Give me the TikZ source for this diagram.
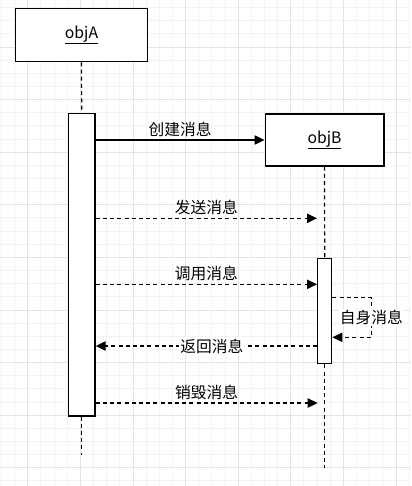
\documentclass[tikz,border=0pt]{standalone}
\usepackage{fontspec}
\setmainfont{Noto Sans CJK SC}
\usetikzlibrary{arrows.meta,positioning}

\definecolor{gridminor}{HTML}{F3F3F3}
\definecolor{gridmajor}{HTML}{E3E3E3}

\begin{document}
\begin{tikzpicture}[x=0.75pt, y=-0.75pt, font=\fontsize{11.8pt}{14pt}\selectfont,
    objbox/.style={draw, line width=1pt, fill=white, inner sep=0pt},
    actbox/.style={draw, line width=1pt, fill=white, inner sep=0pt},
    lifeline/.style={line width=0.9pt, dash pattern=on 3pt off 2.4pt},
    call/.style={line width=0.9pt, -{Triangle[length=7.5pt, width=7pt]}},
    msg/.style={call, dash pattern=on 3pt off 2.4pt},
    lbl/.style={above, inner sep=2pt},
    midlbl/.style={fill=white, inner sep=1pt}]
  \useasboundingbox (0,0) rectangle (411,486);
  \fill[white] (0,0) rectangle (411,486);
  % background grid
  \foreach \k in {0,...,31}
    \draw[gridminor, line width=0.75pt] ({1.5+13.15*\k},0) -- ++(0,486);
  \foreach \k in {0,...,36}
    \draw[gridminor, line width=0.75pt] (0,{7.55+13.15*\k}) -- ++(411,0);
  \foreach \k in {0,...,7}
    \draw[gridmajor, line width=0.75pt] ({27.8+52.6*\k},0) -- ++(0,486);
  \foreach \k in {0,...,8}
    \draw[gridmajor, line width=0.75pt] (0,{47+52.6*\k}) -- ++(411,0);

  % objects and activations
  \node (objA) [objbox, minimum width=98.7pt, minimum height=40pt] at (81.5,35) {\underline{objA}};
  \node (actA) [actbox, minimum width=20pt, minimum height=227pt] at (81.7,264.5) {};
  \node (objB) [objbox, minimum width=89pt, minimum height=39pt] at (324.5,140) {\underline{objB}};
  \node (actB) [actbox, minimum width=10.5pt, minimum height=79pt] at (324.7,311) {};

  \coordinate (endA) at (81.7,455);
  \coordinate (endB) at (324.7,468);
  \coordinate (sendEnd) at (317,218.3);
  \coordinate (callY) at (0,284.3);
  \coordinate (selfTop) at (0,297.7);
  \coordinate (selfBot) at (0,337.3);
  \coordinate (retY) at (0,346);
  \coordinate (killEnd) at (317.7,403);

  % lifelines
  \draw[lifeline] (objA.south) -- (actA.north);
  \draw[lifeline] (actA.south) -- (endA);
  \draw[lifeline] (objB.south) -- (actB.north);
  \draw[lifeline] (actB.south) -- (endB);

  % messages
  \draw[call] (actA.east |- objB.west) -- node[lbl] {创建消息} (objB.west);
  \draw[msg] (actA.east |- sendEnd) -- node[lbl] {发送消息} (sendEnd);
  \draw[msg] (actA.east |- callY) -- node[lbl] {调用消息} (actB.west |- callY);
  \draw[msg] (actB.east |- selfTop) -- ++(39,0) -- node[midlbl] {自身消息} ++(0,39.6) -- (actB.east |- selfBot);
  \draw[msg] (actB.west |- retY) -- node[midlbl, pos=0.475] {返回消息} (actA.east |- retY);
  \draw[msg] (actA.east |- killEnd) -- node[lbl] {销毁消息} (killEnd);
\end{tikzpicture}
\end{document}
